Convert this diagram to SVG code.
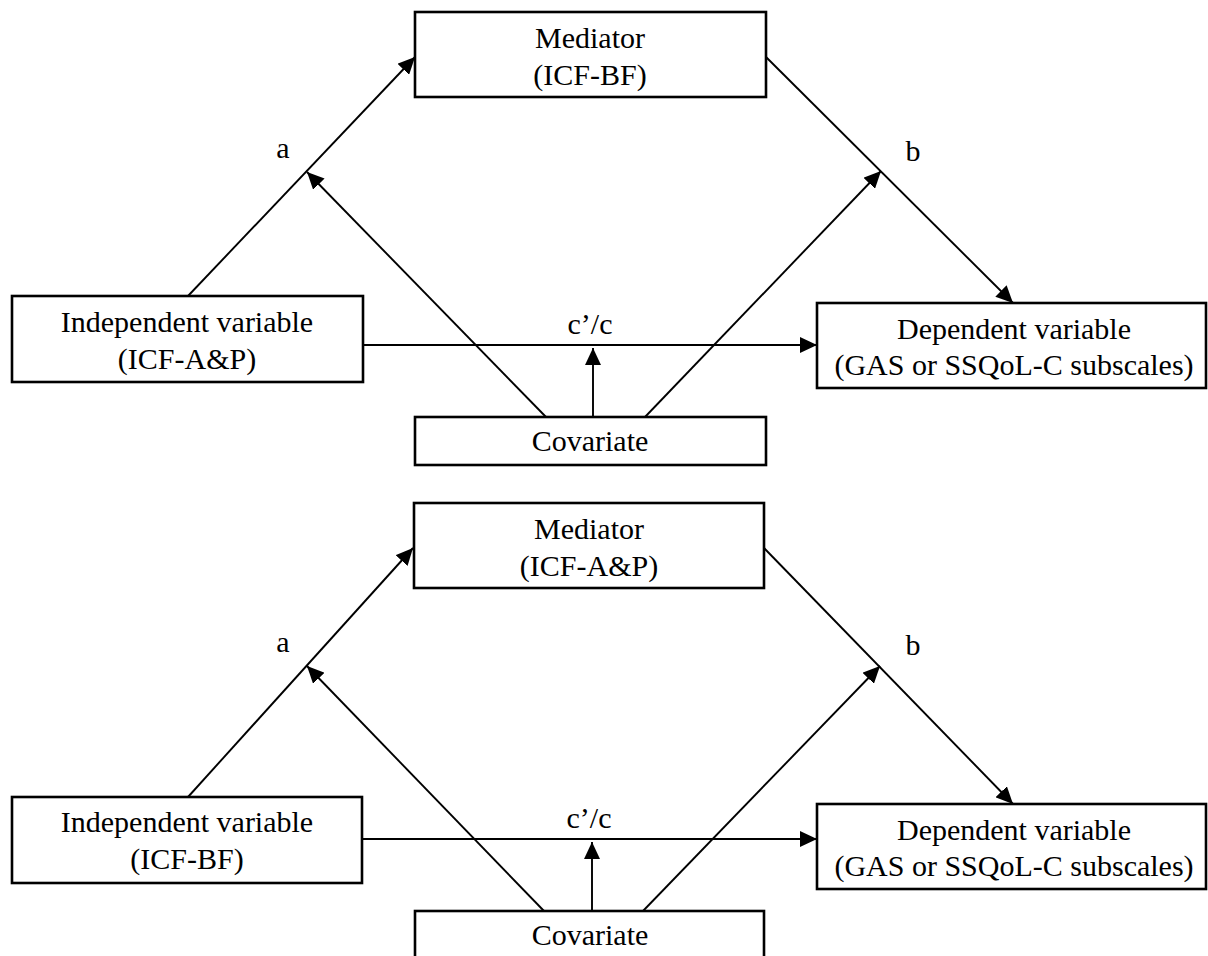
<svg xmlns="http://www.w3.org/2000/svg" width="1208" height="956" viewBox="0 0 1208 956">
<style>
.box{fill:#fff;stroke:#000;stroke-width:2.6}
.t{font-family:"Liberation Serif","Times New Roman",serif;font-size:30px;fill:#000;text-anchor:middle}
.a{stroke:#000;stroke-width:1.9;fill:none;marker-end:url(#ah)}
</style>
<defs>
<marker id="ah" markerUnits="userSpaceOnUse" markerWidth="18" markerHeight="16" refX="17" refY="8" orient="auto">
<path d="M0,0 L17,8 L0,16 z" fill="#000"/>
</marker>
</defs>
<rect width="1208" height="956" fill="#fff"/>
<g id="connectors">
<line class="a" x1="188" y1="296" x2="415" y2="57"/>
<line class="a" x1="766" y1="57" x2="1013" y2="303"/>
<line class="a" x1="363" y1="345" x2="817" y2="345"/>
<line class="a" x1="546" y1="417" x2="307" y2="172"/>
<line class="a" x1="645" y1="417" x2="881" y2="171"/>
<line class="a" x1="593" y1="417" x2="593" y2="348"/>
<line class="a" x1="188" y1="797" x2="413" y2="548"/>
<line class="a" x1="764" y1="548" x2="1013" y2="804"/>
<line class="a" x1="362" y1="839" x2="817" y2="839"/>
<line class="a" x1="544" y1="911" x2="307" y2="666"/>
<line class="a" x1="643" y1="911" x2="880" y2="666"/>
<line class="a" x1="592" y1="911" x2="592" y2="842"/>
<text class="t" x="283" y="158">a</text>
<text class="t" x="913" y="161">b</text>
<text class="t" x="590" y="334">c’/c</text>
<text class="t" x="283" y="652">a</text>
<text class="t" x="913" y="655">b</text>
<text class="t" x="589" y="828">c’/c</text>
</g>
<g id="mediator1"><rect class="box" x="415" y="12" width="351" height="85"/><text class="t" x="590" y="48">Mediator</text><text class="t" x="590" y="85">(ICF-BF)</text></g>
<g id="independent1"><rect class="box" x="12" y="296" width="351" height="86"/><text class="t" x="187" y="332">Independent variable</text><text class="t" x="187" y="369">(ICF-A&amp;P)</text></g>
<g id="dependent1"><rect class="box" x="817" y="303" width="389" height="85"/><text class="t" x="1014" y="339">Dependent variable</text><text class="t" x="1014" y="375">(GAS or SSQoL-C subscales)</text></g>
<g id="covariate1"><rect class="box" x="415" y="417" width="351" height="48"/><text class="t" x="590" y="451">Covariate</text></g>
<g id="mediator2"><rect class="box" x="414" y="503" width="350" height="85"/><text class="t" x="589" y="539">Mediator</text><text class="t" x="589" y="576">(ICF-A&amp;P)</text></g>
<g id="independent2"><rect class="box" x="12" y="797" width="350" height="86"/><text class="t" x="187" y="832">Independent variable</text><text class="t" x="187" y="869">(ICF-BF)</text></g>
<g id="dependent2"><rect class="box" x="817" y="804" width="389" height="85"/><text class="t" x="1014" y="840">Dependent variable</text><text class="t" x="1014" y="876">(GAS or SSQoL-C subscales)</text></g>
<g id="covariate2"><rect class="box" x="415" y="911" width="349" height="48"/><text class="t" x="590" y="945">Covariate</text></g>
</svg>
